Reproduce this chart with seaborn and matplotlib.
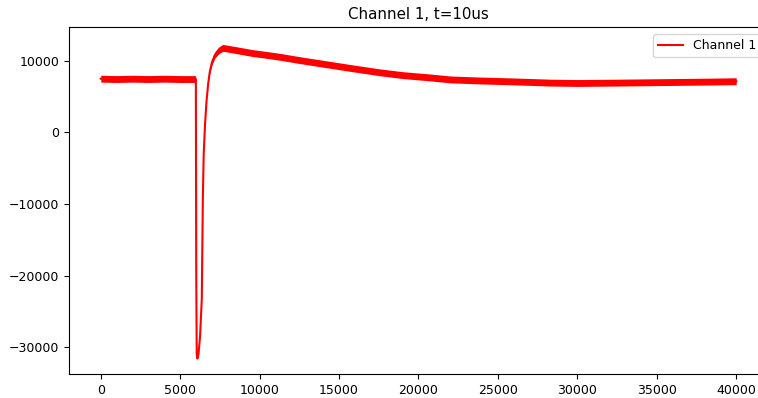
import matplotlib
matplotlib.use("Agg")
import matplotlib.pyplot as plt
import seaborn as sns
import numpy as np
import pandas as pd

# Sample index and signal value (band centre)
sample = [0, 1000, 2000, 3000, 4000, 5000, 5950, 5985, 6010, 6040, 6080, 6150,
          6250, 6360, 6425, 6480, 6560, 6656, 6760, 6866, 7000, 7180, 7400, 7600,
          7700, 8500, 9500, 10500, 11300, 12500, 14400, 16000, 17600, 19000,
          20700, 22000, 23700, 25500, 27000, 28300, 30000, 32500, 34500, 36500,
          38500, 40000]
value = [7500, 7450, 7500, 7450, 7500, 7450, 7450, 7400, -20000, -31000, -31600,
         -31000, -28500, -23200, -9300, -3000, 1000, 4350, 6800, 8500, 9800,
         10800, 11400, 11700, 11800, 11500, 11100, 10800, 10550, 10100, 9450,
         8900, 8380, 8000, 7680, 7400, 7260, 7150, 7050, 6950, 6900, 6950, 7000,
         7050, 7100, 7150]
# half-width of the noise band around the centre
noise = [480, 480, 480, 480, 480, 480, 480, 300, 0, 0, 0, 0,
         0, 0, 0, 0, 0, 0, 100, 220, 380, 450, 480, 480,
         480, 480, 480, 480, 480, 480, 480, 480, 480, 480,
         480, 480, 480, 480, 480, 480, 480, 480, 480, 480,
         480, 480]

title = "Channel 1, t=10us"
label = "Channel 1"

plt.rcParams["font.size"] = 9

df = pd.DataFrame({"sample": sample, "value": value, "noise": noise})

fig = plt.figure(figsize=(7.58, 3.98), dpi=100)
ax = fig.add_axes([69 / 758, (398 - 374) / 398, (768 - 69) / 758, (374 - 27) / 398])

lo = df["value"] - df["noise"]
hi = df["value"] + df["noise"]
ax.fill_between(df["sample"], lo, hi, color="red", linewidth=0)
sns.lineplot(data=df, x="sample", y="value", color="red", linewidth=1.5,
             label=label, ax=ax, sort=False, estimator=None)

ax.set_xlim(-2000, 42000)
ax.set_ylim(-33750, 14720)
ax.set_xticks([0, 5000, 10000, 15000, 20000, 25000, 30000, 35000, 40000])
ax.set_yticks([-30000, -20000, -10000, 0, 10000])
ax.tick_params(labelsize=9)
ax.set_xlabel("")
ax.set_ylabel("")
ax.set_title(title, fontsize=10.8)
ax.legend(loc="upper left", bbox_to_anchor=(653 / 758, 1 - 34 / 398),
          bbox_transform=fig.transFigure, borderaxespad=0, fontsize=9)

fig.savefig("out.png", dpi=100)
